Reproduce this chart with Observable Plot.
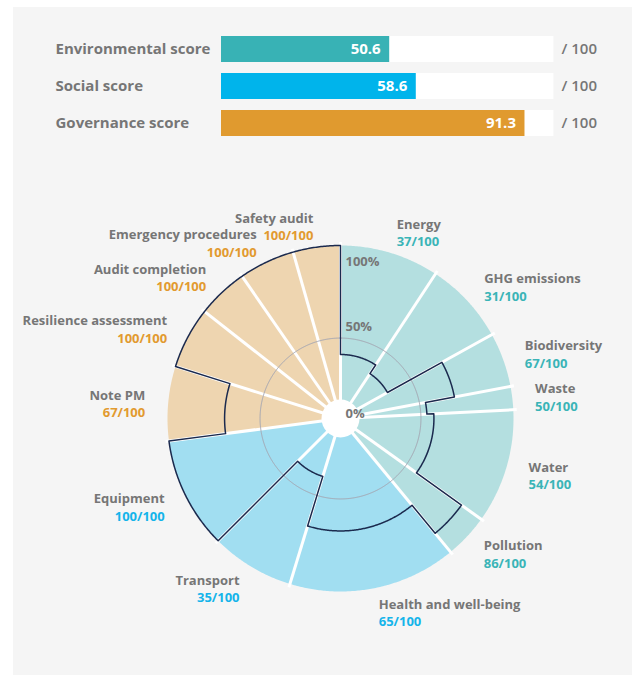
<!DOCTYPE html>
<html><head><meta charset="utf-8">
<script src="https://cdn.jsdelivr.net/npm/d3@7"></script>
<script src="https://cdn.jsdelivr.net/npm/@observablehq/plot@0.6"></script>
<style>
html,body{margin:0;padding:0;background:#fff;}
#panel{position:absolute;left:13px;top:7px;width:619px;height:668px;background:#f5f5f5;overflow:hidden;}
#panel svg{display:block;}
</style></head><body><div id="panel"></div>
<script>
// ---- data ----
const scoreLabels = ["Environmental score", "Social score", "Governance score"];
const scoreValues = [50.6, 58.6, 91.3];
const scoreMax = 100;

const catNames = ["Energy", "GHG emissions", "Biodiversity", "Waste", "Water", "Pollution",
  "Health and well-being", "Transport", "Equipment",
  "Note PM", "Resilience assessment", "Audit completion", "Emergency procedures", "Safety audit"];
const catScores = [37, 31, 67, 50, 54, 86, 65, 35, 100, 67, 100, 100, 100, 100];
const catWeights = [33.3, 27.7, 18.3, 7.8, 38.5, 14.9, 56.5, 28, 37.5, 25, 20.7, 17.1, 18.8, 15.9];
const catPillar = ["E", "E", "E", "E", "E", "E", "S", "S", "S", "G", "G", "G", "G", "G"];
const ringTicks = [0, 50, 100];
const ringTickLabels = ["0%", "50%", "100%"];

// ---- styles ----
const FONT = "'Open Sans', Lato, sans-serif";
const GRAY = "#767676";
const barPalette = ["#38b2b5", "#00b4eb", "#e09a2f"];
const lightFill = {E: "#b4dfe0", S: "#a1def1", G: "#eed5b0"};
const textColor = {E: "#3ab4b7", S: "#14b4ea", G: "#e29a2f"};
const panel = document.getElementById("panel");
const PW = 619;

// ---- top bars ----
const rows = scoreLabels.map((label, i) => ({label, value: scoreValues[i]}));
const bars = Plot.plot({
  width: PW, height: 160,
  marginLeft: 208, marginRight: 78.6, marginTop: 16.8, marginBottom: 18.2,
  style: {fontFamily: FONT, background: "transparent"},
  x: {domain: [0, scoreMax], axis: null},
  y: {domain: scoreLabels, padding: 0.2895, axis: null},
  color: {domain: scoreLabels, range: barPalette},
  marks: [
    Plot.barX(rows, {x1: 0, x2: scoreMax, y: "label", fill: "white"}),
    Plot.barX(rows, {x1: 0, x2: "value", y: "label", fill: "label"}),
    Plot.text(rows, {x: 0, y: "label", text: "label", textAnchor: "start", dx: -166, fill: GRAY, fontSize: 15, fontWeight: 700}),
    Plot.text(rows, {x: "value", y: "label", text: d => d.value.toFixed(1), textAnchor: "end", dx: -9, fill: "white", fontSize: 15, fontWeight: 700}),
    Plot.text(rows, {x: scoreMax, y: "label", text: () => "/ " + scoreMax, textAnchor: "start", dx: 7.6, fill: GRAY, fontSize: 15, fontWeight: 600})
  ]
});
panel.appendChild(bars);

// ---- polar chart ----
const W = PW, H = 508, k = 1.73, cx = 327, cy = 251;
const total = d3.sum(catWeights);
let acc = 0;
const cats = catNames.map((name, i) => {
  const a0 = acc / total * 360; acc += catWeights[i];
  const a1 = acc / total * 360;
  return {i, name, score: catScores[i], pillar: catPillar[i], a0, a1, mid: (a0 + a1) / 2};
});
const rad = a => a * Math.PI / 180;
const pt = (r, a) => ({x: r * Math.sin(rad(a)), y: r * Math.cos(rad(a))});
function arc(r, a0, a1) {
  const n = Math.max(2, Math.ceil((a1 - a0) / 0.5));
  return d3.range(n + 1).map(j => pt(r, a0 + (a1 - a0) * j / n));
}
const wedgePts = cats.flatMap(c => [{x: 0, y: 0}, ...arc(scoreMax, c.a0, c.a1), {x: 0, y: 0}]
  .map(p => ({...p, key: c.i, pillar: c.pillar})));
const outlinePts = cats.flatMap(c => arc(c.score, c.a0, c.a1));
outlinePts.push(outlinePts[0]);
const boundaries = cats.map(c => ({a: c.a0}));
const ringR = 46.5;
const ringPts = arc(ringR, 0, 360);
const labR = 196 / k;
const labels = cats.map(c => ({...c, ...pt(labR, c.mid), value: c.score + "/" + scoreMax}));
const right = labels.filter(d => d.mid < 180), left = labels.filter(d => d.mid >= 180);
const ticks = ringTicks.map((v, i) => ({v, label: ringTickLabels[i]}));

const labelMarks = (data, anchor) => [
  Plot.text(data, {x: "x", y: "y", text: "name", textAnchor: anchor, dy: -6, fill: GRAY, fontSize: 13, fontWeight: 700}),
  Plot.text(data, {x: "x", y: "y", text: "value", textAnchor: anchor, dy: 11.5, fill: d => textColor[d.pillar], fontSize: 13, fontWeight: 700})
];
const tickStyle = {x: 0, y: "v", text: "label", textAnchor: "start", dx: 5, fill: GRAY, fontSize: 13, fontWeight: 700};

const polar = Plot.plot({
  width: W, height: H, margin: 0,
  style: {fontFamily: FONT, background: "transparent"},
  x: {domain: [-cx / k, (W - cx) / k], range: [0, W], axis: null},
  y: {domain: [-(H - cy) / k, cy / k], range: [H, 0], axis: null},
  color: {type: "identity"},
  marks: [
    Plot.line(wedgePts, {x: "x", y: "y", z: "key", fill: d => lightFill[d.pillar], stroke: "none"}),
    Plot.link(boundaries, {x1: 0, y1: 0, x2: d => pt(scoreMax + 2, d.a).x, y2: d => pt(scoreMax + 2, d.a).y, stroke: "white", strokeWidth: 3}),
    Plot.line(ringPts, {x: "x", y: "y", stroke: "#a4a6b2", strokeWidth: 1}),
    Plot.line(outlinePts, {x: "x", y: "y", stroke: "#1b2a4e", strokeWidth: 1.5}),
    Plot.dot([{x: 0, y: 0}], {x: "x", y: "y", r: 19, fill: "white", stroke: "none"}),
    Plot.text(ticks.filter(d => d.v === scoreMax), {...tickStyle, dy: 16}),
    Plot.text(ticks.filter(d => d.v !== scoreMax), {...tickStyle, dy: -5}),
    ...labelMarks(right, "start"),
    ...labelMarks(left, "end")
  ]
});
panel.appendChild(polar);
</script></body></html>
